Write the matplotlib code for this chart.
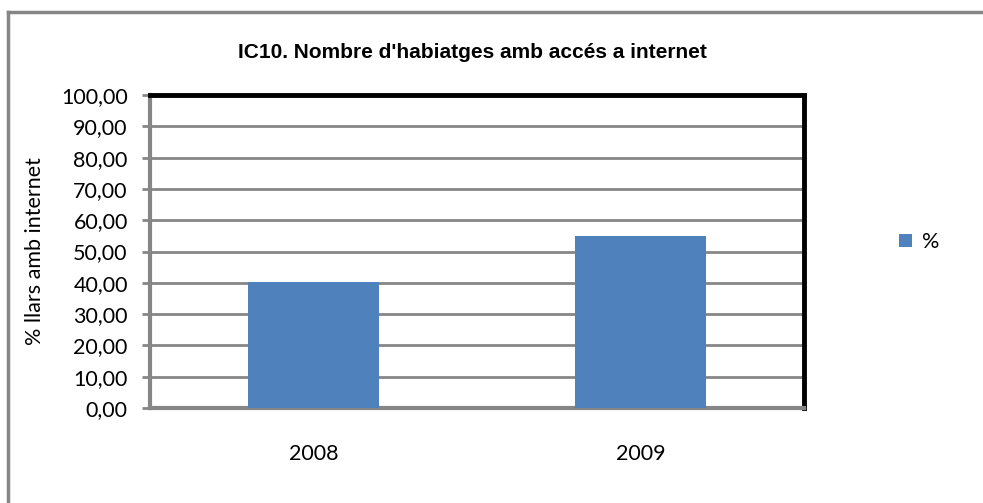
import matplotlib
matplotlib.use('Agg')
import matplotlib.pyplot as plt
from matplotlib.lines import Line2D

years = ['2008', '2009']
values = [40.3, 55.0]
series_name = '%'
yticks = [0, 10, 20, 30, 40, 50, 60, 70, 80, 90, 100]
ytick_labels = ['0,00', '10,00', '20,00', '30,00', '40,00', '50,00',
                '60,00', '70,00', '80,00', '90,00', '100,00']
title = "IC10. Nombre d'habiatges amb accés a internet"
ylabel = '% llars amb internet'

plt.rcParams['font.family'] = ['Lato', 'DejaVu Sans']

fig = plt.figure(figsize=(9.83, 5.03), dpi=100)

# outer chart frame (only left and top visible)
fig.add_artist(Line2D([8/983, 8/983], [0, 1 - 12/503], color='#868686', lw=2.5, transform=fig.transFigure))
fig.add_artist(Line2D([8/983, 1], [1 - 12/503, 1 - 12/503], color='#868686', lw=2.5, transform=fig.transFigure))

ax = fig.add_axes([150/983, 95/503, (804 - 150)/983, (408 - 95)/503])
x = range(len(years))
ax.bar(x, values, width=0.4, color='#4f81bd', zorder=3, label=series_name)
ax.set_xlim(-0.5, len(years) - 0.5)
ax.set_ylim(0, 100)
ax.set_yticks(yticks)
ax.set_yticklabels(ytick_labels)
ax.set_xticks(list(x))
ax.set_xticklabels(years)
ax.grid(axis='y', color='#868686', lw=2, zorder=1)
ax.tick_params(axis='y', length=6, width=2, color='#868686', labelsize=15.5, pad=10)
ax.tick_params(axis='x', length=0, labelsize=15.5, pad=26)

for s in ['top', 'right']:
    ax.spines[s].set_color('black')
    ax.spines[s].set_linewidth(3.5)
for s in ['left', 'bottom']:
    ax.spines[s].set_color('#868686')
    ax.spines[s].set_linewidth(3)

ax.set_ylabel(ylabel, fontsize=15.5)
ax.yaxis.set_label_coords(-0.16, 0.5)

fig.text(472/983, 1 - 52/503, title, ha='center', va='center', fontsize=15,
         fontweight='bold', family=['Liberation Sans Narrow', 'Liberation Sans', 'DejaVu Sans'])

ax.legend(loc='center left', bbox_to_anchor=(1.115, 0.53), frameon=False,
          fontsize=15.5, handlelength=0.6, handleheight=0.6, handletextpad=0.5)

fig.savefig('out.png', dpi=100)
